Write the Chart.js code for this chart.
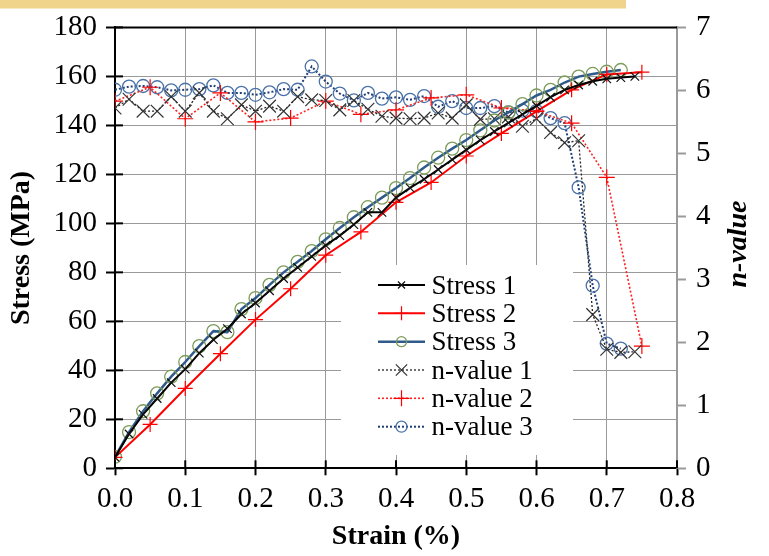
<!DOCTYPE html>
<html><head><meta charset="utf-8">
<script src="https://cdn.jsdelivr.net/npm/chart.js@4.4.1/dist/chart.umd.min.js"></script>
<style>html,body{margin:0;padding:0;background:#fff;}#wrap{position:relative;width:769px;height:556px;}</style>
</head><body><div id="wrap"><canvas id="c" width="769" height="556"></canvas></div>
<script>
// ---- data ----
const strainA = [0,0.02,0.04,0.06,0.08,0.10,0.12,0.14,0.16,0.18,0.20,0.22,0.24,0.26,0.28,0.30,0.32,0.34,0.36,0.38,0.40,0.42,0.44,0.46,0.48,0.50,0.52,0.54,0.56,0.58,0.60,0.62,0.64,0.66,0.68,0.70,0.72,0.74];
const stress1 = [4.5,14,22,28.5,35,40.5,47,52.5,57,63,67.5,72.5,77.5,82,86.5,91,95,99.5,104.5,104.5,110.5,114.5,118,122,126,130,134,137.5,141,144.5,148,151.5,154.5,156.5,158,159,159.5,160];
const nvalue1 = [5.72,5.86,5.67,5.67,5.9,5.67,5.96,5.67,5.55,5.77,5.67,5.75,5.67,5.9,5.85,5.84,5.69,5.84,5.7,5.59,5.56,5.55,5.56,5.64,5.56,5.77,5.54,5.55,5.58,5.43,5.55,5.33,5.17,5.2,2.44,1.89,1.84,1.85];
const strainB = [0,0.05,0.10,0.15,0.20,0.25,0.30,0.35,0.40,0.45,0.50,0.55,0.60,0.65,0.70,0.75];
const stress2 = [4.5,17.9,32.6,46.8,60.7,73.3,87,96.5,108.6,116.7,127.5,136.7,145.7,154.5,160.8,161.7];
const nvalue2 = [5.83,6.05,5.55,5.96,5.5,5.56,5.83,5.62,5.69,5.88,5.93,5.72,5.67,5.48,4.62,1.94];
const strainC = [0,0.02,0.04,0.06,0.08,0.10,0.12,0.14,0.16,0.18,0.20,0.22,0.24,0.26,0.28,0.30,0.32,0.34,0.36,0.38,0.40,0.42,0.44,0.46,0.48,0.50,0.52,0.54,0.56,0.58,0.60,0.62,0.64,0.66,0.68,0.70,0.72];
const stress3 = [4.7,14.8,23.3,30.6,37.4,43.4,49.9,56,55.6,65,69.5,74.9,80,84.3,88.7,93.5,98.1,102.5,106.6,110.5,114.4,118.5,122.8,126.8,130.5,134,138,142,145.3,148.7,152.2,154.5,157.5,159.9,161,161.9,162.6];
const nvalue3 = [6.01,6.06,6.07,6.05,6.0,6.01,6.02,6.08,5.96,5.96,5.93,5.97,6.02,6.01,6.38,6.14,5.95,5.84,5.96,5.87,5.89,5.85,5.91,5.74,5.83,5.72,5.72,5.75,5.65,5.68,5.67,5.56,5.48,4.46,2.9,1.98,1.9];
const xTickLabels = ['0.0','0.1','0.2','0.3','0.4','0.5','0.6','0.7','0.8'];
const seriesLabels = ['Stress 1','Stress 2','Stress 3','n-value 1','n-value 2','n-value 3'];

const pts = (xs, ys) => xs.map((x, i) => ({x: x, y: ys[i]}));
const FONT = "'Liberation Serif', 'Times New Roman', serif";
Chart.defaults.font.family = FONT;

const datasets = [
  {label: seriesLabels[0], data: pts(strainA, stress1), yAxisID: 'y', borderColor: '#000', borderWidth: 2,
   pointStyle: 'crossRot', pointRadius: 6, pointBorderColor: '#111', pointBorderWidth: 1.2, pointBackgroundColor: 'rgba(0,0,0,0)', legR: 5},
  {label: seriesLabels[1], data: pts(strainB, stress2), yAxisID: 'y', borderColor: '#ff0000', borderWidth: 2,
   pointStyle: 'cross', pointRadius: 7.5, pointBorderColor: '#ff0000', pointBorderWidth: 1.2, pointBackgroundColor: 'rgba(0,0,0,0)', legR: 7},
  {label: seriesLabels[2], data: pts(strainC, stress3), yAxisID: 'y', borderColor: '#2f5a8c', borderWidth: 2.5,
   pointStyle: 'circle', pointRadius: 6.5, pointBorderColor: '#7c9c58', pointBorderWidth: 1.3, pointBackgroundColor: 'rgba(0,0,0,0)', legR: 5},
  {label: seriesLabels[3], data: pts(strainA, nvalue1), yAxisID: 'y1', borderColor: '#222', borderWidth: 1.3, borderDash: [2,2],
   pointStyle: 'crossRot', pointRadius: 9, pointBorderColor: '#333', pointBorderWidth: 1.2, pointBackgroundColor: 'rgba(0,0,0,0)', legR: 8},
  {label: seriesLabels[4], data: pts(strainB, nvalue2), yAxisID: 'y1', borderColor: '#ff2020', borderWidth: 1.6, borderDash: [2,2],
   pointStyle: 'cross', pointRadius: 8, pointBorderColor: '#ff0000', pointBorderWidth: 1.2, pointBackgroundColor: 'rgba(0,0,0,0)', legR: 8},
  {label: seriesLabels[5], data: pts(strainC, nvalue3), yAxisID: 'y1', borderColor: '#1f3f78', borderWidth: 2, borderDash: [2,2],
   pointStyle: 'circle', pointRadius: 6.5, pointBorderColor: '#4a72a8', pointBorderWidth: 1.3, pointBackgroundColor: 'rgba(0,0,0,0)', legR: 5.5}
];
datasets.forEach(d => { d.showLine = true; d.fill = false; d.tension = 0; });

function mark(ctx, style, x, y, r, stroke, lw){
  ctx.save(); ctx.strokeStyle = stroke; ctx.lineWidth = lw; ctx.setLineDash([]); ctx.beginPath();
  if (style === 'crossRot') { const d = r*0.7071; ctx.moveTo(x-d,y-d); ctx.lineTo(x+d,y+d); ctx.moveTo(x+d,y-d); ctx.lineTo(x-d,y+d); }
  else if (style === 'cross') { ctx.moveTo(x-r,y); ctx.lineTo(x+r,y); ctx.moveTo(x,y-r); ctx.lineTo(x,y+r); }
  else { ctx.arc(x,y,r,0,Math.PI*2); }
  ctx.stroke(); ctx.restore();
}

const deco = {
  id: 'deco',
  beforeDraw(chart){
    const ctx = chart.ctx; ctx.save();
    ctx.fillStyle = '#fff'; ctx.fillRect(0,0,chart.width,chart.height);
    ctx.fillStyle = '#f1d48c'; ctx.fillRect(0,0,626,8.5);
    ctx.restore();
  },
  afterDraw(chart){
    const ctx = chart.ctx, a = chart.chartArea;
    const xs = chart.scales.x, ys = chart.scales.y;
    ctx.save();
    ctx.strokeStyle = '#000'; ctx.lineWidth = 2; ctx.setLineDash([]);
    ctx.beginPath(); ctx.moveTo(a.left, a.top); ctx.lineTo(a.right, a.top); ctx.stroke();
    ys.ticks.forEach(t => { const y = ys.getPixelForValue(t.value); ctx.beginPath(); ctx.moveTo(a.left, y); ctx.lineTo(a.left+8, y); ctx.stroke(); });
    xs.ticks.forEach(t => { const x = xs.getPixelForValue(t.value); ctx.beginPath(); ctx.moveTo(x, a.bottom); ctx.lineTo(x, a.bottom-8); ctx.stroke(); });
    ctx.fillStyle = '#000'; ctx.textAlign = 'center'; ctx.textBaseline = 'middle';
    ctx.font = "bold 28px " + FONT;
    ctx.fillText('Strain (%)', (a.left+a.right)/2, 537);
    ctx.save(); ctx.translate(21.5, 248); ctx.rotate(-Math.PI/2); ctx.fillText('Stress (MPa)', 0, 0); ctx.restore();
    ctx.font = "italic bold 28px " + FONT;
    ctx.save(); ctx.translate(739, 244); ctx.rotate(-Math.PI/2); ctx.fillText('n-value', 0, 0); ctx.restore();
    ctx.fillStyle = '#fff'; ctx.fillRect(341, 265, 232, 190);
    const rows = [285, 313.3, 341.7, 370, 398.3, 426.7];
    chart.data.datasets.forEach((d, i) => {
      const y = rows[i];
      ctx.save();
      ctx.strokeStyle = d.borderColor; ctx.lineWidth = d.borderWidth; ctx.setLineDash(d.borderDash || []);
      ctx.beginPath(); ctx.moveTo(378, y); ctx.lineTo(425, y); ctx.stroke();
      ctx.restore();
      mark(ctx, d.pointStyle, 401.5, y, d.legR, d.pointBorderColor, d.pointBorderWidth);
      ctx.fillStyle = '#000'; ctx.textAlign = 'left'; ctx.textBaseline = 'alphabetic';
      ctx.font = "27px " + FONT;
      ctx.fillText(d.label, 431.5, y + 8.5);
    });
    ctx.restore();
  }
};

new Chart(document.getElementById('c'), {
  type: 'scatter',
  data: {datasets: datasets},
  plugins: [deco],
  options: {
    responsive: false, animation: false, devicePixelRatio: 1,
    layout: {padding: {top: 22.7, left: 0, right: 0, bottom: 0}},
    plugins: {legend: {display: false}, tooltip: {enabled: false}},
    scales: {
      x: {
        type: 'linear', min: 0, max: 0.8,
        afterFit(s){ s.height = 87.7; },
        ticks: {stepSize: 0.1, color: '#000', font: {size: 29, family: FONT}, padding: 7, maxRotation: 0,
                callback: (v, i) => xTickLabels[i]},
        grid: {color: c => (c.tick && (Math.abs(c.tick.value) < 1e-6 || Math.abs(c.tick.value-0.8) < 1e-6)) ? 'rgba(0,0,0,0)' : '#9a9a9a',
               lineWidth: 1, borderDash: [8,4], drawTicks: true, tickLength: 7, tickColor: '#000', tickWidth: 2, tickBorderDash: []},
        border: {display: true, color: '#000', width: 2}
      },
      y: {
        type: 'linear', position: 'left', min: 0, max: 180,
        afterFit(s){ s.width = 115; },
        ticks: {stepSize: 20, color: '#000', font: {size: 29, family: FONT}, padding: 9},
        grid: {color: c => (c.tick && (c.tick.value === 0 || c.tick.value === 180)) ? 'rgba(0,0,0,0)' : '#9a9a9a',
               lineWidth: 1, borderDash: [8,4], drawTicks: true, tickLength: 9, tickColor: '#000', tickWidth: 2, tickBorderDash: []},
        border: {display: true, color: '#000', width: 2}
      },
      y1: {
        type: 'linear', position: 'right', min: 0, max: 7,
        afterFit(s){ s.width = 92; },
        ticks: {stepSize: 1, color: '#000', font: {size: 29, family: FONT}, padding: 10},
        grid: {drawOnChartArea: false, drawTicks: true, tickLength: 9, tickColor: '#9a9a9a', tickWidth: 2, tickBorderDash: []},
        border: {display: true, color: '#9a9a9a', width: 2}
      }
    }
  }
});
</script>
</body></html>
